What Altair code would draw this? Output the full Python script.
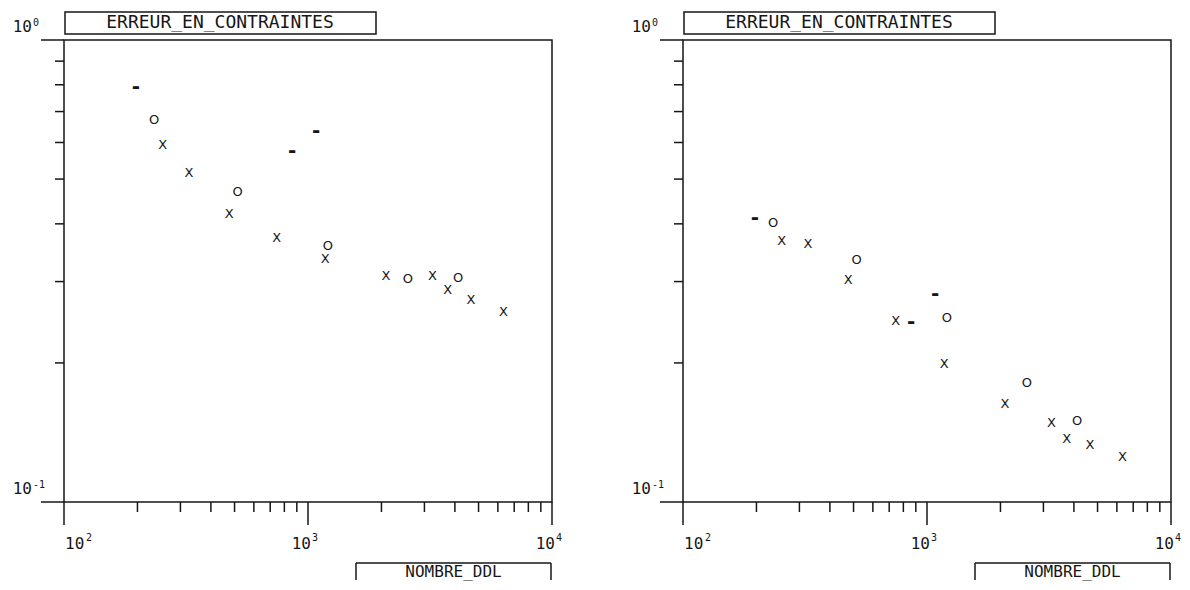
import altair as alt
import pandas as pd

# ---------------- data ----------------
y_title = "ERREUR_EN_CONTRAINTES"
x_title = "NOMBRE_DDL"

# abscissae (number of degrees of freedom) per marker type
x_X = [254, 325, 475, 745, 1175, 2085, 3240, 3735, 4655, 6330]
x_O = [234, 515, 1205, 2565, 4120]
x_D = [197, 862, 1080]

# left panel errors
left_X = [0.594, 0.515, 0.421, 0.372, 0.336, 0.308, 0.309, 0.287, 0.273, 0.258]
left_O = [0.670, 0.469, 0.358, 0.304, 0.305]
left_D = [0.790, 0.575, 0.635]

# right panel errors
right_X = [0.367, 0.361, 0.303, 0.247, 0.199, 0.163, 0.148, 0.137, 0.133, 0.125]
right_O = [0.402, 0.334, 0.250, 0.181, 0.150]
right_D = [0.412, 0.245, 0.282]

# axis ticks / labels
x_major = [100, 1000, 10000]
x_exp = ["2", "3", "4"]
x_minor = [200, 300, 400, 500, 600, 700, 800, 900,
           2000, 3000, 4000, 5000, 6000, 7000, 8000, 9000]
y_major = [1.0, 0.1]
y_exp = ["0", "-1"]
y_minor = [0.2, 0.3, 0.4, 0.5, 0.6, 0.7, 0.8, 0.9]

# ---------------- styling ----------------
W, H = 488, 462
INK = "#161616"
MONO = "DejaVu Sans Mono"
SANS = "DejaVu Sans"
LW = 1.5


def panel(yX, yO, yD):
    xs = alt.Scale(type="log", domain=[100, 10000], nice=False)
    ys = alt.Scale(type="log", domain=[0.1, 1], nice=False)

    pts = pd.DataFrame({
        "n": x_X + x_O + x_D,
        "err": yX + yO + yD,
        "sym": ["X"] * len(x_X) + ["O"] * len(x_O) + ["-"] * len(x_D),
    })
    enc = dict(
        x=alt.X("n:Q", scale=xs, axis=None),
        y=alt.Y("err:Q", scale=ys, axis=None),
        text="sym:N",
    )
    points = alt.Chart(pts).transform_filter(alt.datum.sym != "-").mark_text(
        font=SANS, color=INK, fontSize=13).encode(**enc)
    dashes = alt.Chart(pts).transform_filter(alt.datum.sym == "-").mark_text(
        font=SANS, color=INK, fontSize=20, fontWeight="bold").encode(**enc)

    xmin_t = alt.Chart(pd.DataFrame({"v": x_minor})).mark_rule(
        color=INK, strokeWidth=LW).encode(
        x=alt.X("v:Q", scale=xs, axis=None),
        y=alt.value(H), y2=alt.value(H + 10))
    xmaj_t = alt.Chart(pd.DataFrame({"v": x_major})).mark_rule(
        color=INK, strokeWidth=LW).encode(
        x=alt.X("v:Q", scale=xs, axis=None),
        y=alt.value(H), y2=alt.value(H + 23))
    ymin_t = alt.Chart(pd.DataFrame({"v": y_minor})).mark_rule(
        color=INK, strokeWidth=LW).encode(
        y=alt.Y("v:Q", scale=ys, axis=None),
        x=alt.value(0), x2=alt.value(-9))
    ymaj_t = alt.Chart(pd.DataFrame({"v": y_major})).mark_rule(
        color=INK, strokeWidth=LW).encode(
        y=alt.Y("v:Q", scale=ys, axis=None),
        x=alt.value(0), x2=alt.value(-23))

    xl = pd.DataFrame({"v": x_major, "b": ["10"] * len(x_major), "e": x_exp})
    first = alt.datum.v == x_major[0]
    rest = alt.datum.v != x_major[0]
    xlab1 = alt.Chart(xl).transform_filter(first).mark_text(
        font=MONO, fontSize=16, color=INK, align="left", baseline="alphabetic", dx=1).encode(
        x=alt.X("v:Q", scale=xs, axis=None), y=alt.value(H + 47), text="b:N")
    xlabe1 = alt.Chart(xl).transform_filter(first).mark_text(
        font=MONO, fontSize=10, color=INK, align="left", baseline="alphabetic", dx=22).encode(
        x=alt.X("v:Q", scale=xs, axis=None), y=alt.value(H + 39), text="e:N")
    xlab2 = alt.Chart(xl).transform_filter(rest).mark_text(
        font=MONO, fontSize=16, color=INK, align="right", baseline="alphabetic", dx=3).encode(
        x=alt.X("v:Q", scale=xs, axis=None), y=alt.value(H + 47), text="b:N")
    xlabe2 = alt.Chart(xl).transform_filter(rest).mark_text(
        font=MONO, fontSize=10, color=INK, align="left", baseline="alphabetic", dx=4).encode(
        x=alt.X("v:Q", scale=xs, axis=None), y=alt.value(H + 39), text="e:N")

    yl = pd.DataFrame({"v": y_major, "b": ["10"] * len(y_major), "e": y_exp})
    ylab = alt.Chart(yl).mark_text(
        font=MONO, fontSize=16, color=INK, align="right", baseline="alphabetic", dy=-8).encode(
        y=alt.Y("v:Q", scale=ys, axis=None), x=alt.value(-32), text="b:N")
    ylabe = alt.Chart(yl).mark_text(
        font=MONO, fontSize=10, color=INK, align="left", baseline="alphabetic", dy=-14).encode(
        y=alt.Y("v:Q", scale=ys, axis=None), x=alt.value(-31), text="e:N")

    tdf = pd.DataFrame({"t": [y_title]})
    tbox = alt.Chart(tdf).mark_rect(
        fillOpacity=0, stroke=INK, strokeWidth=LW).encode(
        x=alt.value(1), x2=alt.value(312), y=alt.value(-28), y2=alt.value(-6))
    ttxt = alt.Chart(tdf).mark_text(
        font=MONO, fontSize=18, color=INK, align="center", baseline="alphabetic").encode(
        x=alt.value(156), y=alt.value(-12), text="t:N")

    xdf = pd.DataFrame({"t": [x_title]})
    bl, br = 292, 487
    xb_top = alt.Chart(xdf).mark_rule(color=INK, strokeWidth=LW).encode(
        x=alt.value(bl), x2=alt.value(br), y=alt.value(H + 61))
    xb_l = alt.Chart(xdf).mark_rule(color=INK, strokeWidth=LW).encode(
        x=alt.value(bl), y=alt.value(H + 61), y2=alt.value(H + 78))
    xb_r = alt.Chart(xdf).mark_rule(color=INK, strokeWidth=LW).encode(
        x=alt.value(br), y=alt.value(H + 61), y2=alt.value(H + 78))
    xtxt = alt.Chart(xdf).mark_text(
        font=MONO, fontSize=16, color=INK, align="center", baseline="alphabetic").encode(
        x=alt.value((bl + br) / 2), y=alt.value(H + 75), text="t:N")

    return alt.layer(
        xmin_t, xmaj_t, ymin_t, ymaj_t, xlab1, xlabe1, xlab2, xlabe2, ylab, ylabe,
        tbox, ttxt, xb_top, xb_l, xb_r, xtxt, points, dashes
    ).properties(width=W, height=H)


chart = alt.hconcat(
    panel(left_X, left_O, left_D),
    panel(right_X, right_O, right_D),
    spacing=131,
).properties(
    bounds="flush",
    padding={"left": 3, "top": 2, "right": 0, "bottom": 0},
    background="white",
).configure_view(
    stroke=INK, strokeWidth=LW
)

chart.save("out.html", embed_options={"renderer": "svg", "actions": False})
